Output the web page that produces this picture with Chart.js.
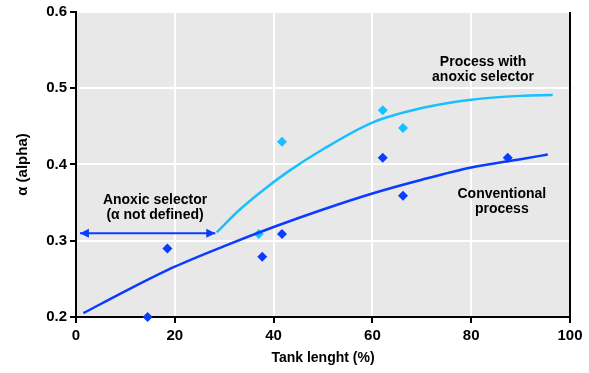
<!DOCTYPE html>
<html>
<head>
<meta charset="utf-8">
<script src="https://cdn.jsdelivr.net/npm/chart.js@4.4.1/dist/chart.umd.min.js"></script>
<style>
html,body{margin:0;padding:0;background:#fff;}
#wrap{width:589px;height:373px;}
</style>
</head>
<body>
<div id="wrap"><canvas id="alphaChart"></canvas></div>
<script>
// measured alpha values
const convX = [14.5, 18.5, 37.7, 41.7, 62.1, 66.2, 87.4];
const convY = [0.200, 0.290, 0.279, 0.309, 0.409, 0.359, 0.409];
const anoxX = [37.0, 41.7, 62.1, 66.2];
const anoxY = [0.309, 0.430, 0.471, 0.448];

// fitted trend lines
const convFitX = [1.5, 10, 20, 30, 40, 50, 60, 70, 80, 90, 95.5];
const convFitY = [0.205, 0.234, 0.266, 0.293, 0.318, 0.341, 0.362, 0.380, 0.396, 0.407, 0.413];
const anoxFitX = [28.5, 33, 38, 43, 50, 60, 70, 80, 90, 96.5];
const anoxFitY = [0.311, 0.340, 0.367, 0.391, 0.420, 0.455, 0.474, 0.485, 0.490, 0.491];

// selector zone arrow
const arrowX = [0.8, 28.2];
const arrowY = [0.31, 0.31];

const xTicks = [0, 20, 40, 60, 80, 100];
const yTicks = [0.2, 0.3, 0.4, 0.5, 0.6];

const noteSelector = ['Anoxic selector', '(\u03b1 not defined)'];
const noteAnoxic = ['Process with', 'anoxic selector'];
const noteConv = ['Conventional', 'process'];

const DARK = '#0a3cff';
const LIGHT = '#19bfff';
const FONT = '"Liberation Sans", Arial, sans-serif';

function pts(xs, ys){
	return xs.map((x,i)=>({x:x, y:ys[i]}));
}

const plotBg = {
	id:'plotBg',
	beforeDraw(chart){
		const {ctx, chartArea:a} = chart;
		ctx.save();
		ctx.fillStyle = '#e8e8e8';
		ctx.fillRect(a.left, a.top, a.right-a.left, a.bottom-a.top);
		ctx.restore();
	},
	afterDraw(chart){
		const {ctx, chartArea:a} = chart;
		ctx.save();
		ctx.strokeStyle = '#000';
		ctx.lineWidth = 2;
		ctx.beginPath();
		ctx.moveTo(a.right, a.top);
		ctx.lineTo(a.right, a.bottom+1);
		ctx.stroke();
		ctx.restore();
	}
};

// arrowheads on both ends of the selector line
const arrowHeads = {
	id:'arrowHeads',
	afterDatasetsDraw(chart){
		const meta = chart.getDatasetMeta(4);
		const p = meta.data;
		if(p.length < 2) return;
		const ctx = chart.ctx;
		ctx.save();
		ctx.fillStyle = DARK;
		const head = (tip, dir)=>{
			ctx.beginPath();
			ctx.moveTo(tip.x, tip.y);
			ctx.lineTo(tip.x - dir*9, tip.y - 4.5);
			ctx.lineTo(tip.x - dir*9, tip.y + 4.5);
			ctx.closePath();
			ctx.fill();
		};
		head(p[0], -1);
		head(p[p.length-1], 1);
		ctx.restore();
	}
};

const notes = {
	id:'notes',
	afterDatasetsDraw(chart){
		const {ctx, scales:{x, y}} = chart;
		const blocks = [
			{lines:noteSelector, x:16.0, y:0.3436},
			{lines:noteAnoxic, x:82.4, y:0.5244},
			{lines:noteConv, x:86.2, y:0.3508}
		];
		ctx.save();
		ctx.font = 'bold 14px ' + FONT;
		ctx.fillStyle = '#000';
		ctx.textAlign = 'center';
		ctx.textBaseline = 'middle';
		blocks.forEach(b=>{
			const cx = x.getPixelForValue(b.x);
			const cy = y.getPixelForValue(b.y);
			const top = cy - (b.lines.length-1)*15/2;
			b.lines.forEach((t,i)=>ctx.fillText(t, cx, top + i*15));
		});
		ctx.restore();
	}
};

const alphaChart = new Chart(document.querySelector('#alphaChart').getContext('2d'), {
	type:'scatter',
	data:{
		datasets:[
			{
				data:pts(convFitX, convFitY),
				showLine:true, borderColor:DARK, borderWidth:2.5,
				pointRadius:0, tension:0.4, cubicInterpolationMode:'monotone'
			},
			{
				data:pts(anoxFitX, anoxFitY),
				showLine:true, borderColor:LIGHT, borderWidth:2.5,
				pointRadius:0, cubicInterpolationMode:'monotone'
			},
			{
				data:pts(convX, convY), clip:false,
				pointStyle:'rectRot', pointRadius:5, pointHoverRadius:5,
				backgroundColor:DARK, borderColor:DARK, borderWidth:0
			},
			{
				data:pts(anoxX, anoxY), clip:false,
				pointStyle:'rectRot', pointRadius:5, pointHoverRadius:5,
				backgroundColor:LIGHT, borderColor:LIGHT, borderWidth:0
			},
			{
				data:pts(arrowX, arrowY),
				showLine:true, borderColor:DARK, borderWidth:2,
				pointRadius:0
			}
		]
	},
	options:{
		responsive:true,
		maintainAspectRatio:false,
		animation:false,
		events:[],
		layout:{padding:{top:11, right:19, left:0, bottom:0}},
		plugins:{
			legend:{display:false},
			tooltip:{enabled:false}
		},
		scales:{
			x:{
				type:'linear', min:0, max:100,
				afterBuildTicks(s){ s.ticks = xTicks.map(v=>({value:v})); },
				afterFit(s){ s.height = 56; },
				grid:{color:'#fff', lineWidth:2, tickColor:'#000', tickLength:6},
				border:{display:true, color:'#000', width:2},
				ticks:{color:'#000', font:{family:FONT, size:15, weight:'bold'}, padding:4, maxRotation:0},
				title:{display:true, text:'Tank lenght (%)', color:'#000',
					font:{family:FONT, size:14, weight:'bold'}, padding:{top:0, bottom:6}}
			},
			y:{
				type:'linear', min:0.2, max:0.6,
				afterBuildTicks(s){ s.ticks = yTicks.map(v=>({value:v})); },
				afterFit(s){ s.width = 76; },
				grid:{color:'#fff', lineWidth:2, tickColor:'#000', tickLength:6},
				border:{display:true, color:'#000', width:2},
				ticks:{color:'#000', font:{family:FONT, size:15, weight:'bold'}, padding:3,
					callback:v=>v.toFixed(1)},
				title:{display:true, text:'\u03b1 (alpha)', color:'#000',
					font:{family:FONT, size:15, weight:'bold'}, padding:{top:14, bottom:0}}
			}
		}
	},
	plugins:[plotBg, arrowHeads, notes]
});
</script>
</body>
</html>
